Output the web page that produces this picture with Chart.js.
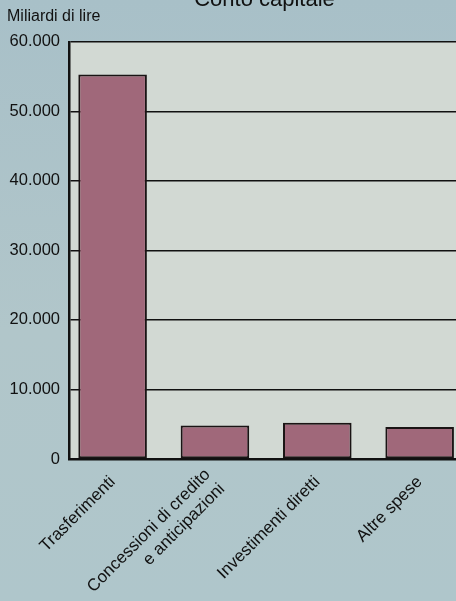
<!DOCTYPE html>
<html><head><meta charset="utf-8">
<script src="https://cdn.jsdelivr.net/npm/chart.js@4/dist/chart.umd.min.js"></script>
<style>
html,body{margin:0;padding:0;width:456px;height:601px;overflow:hidden;background:linear-gradient(180deg,#a8c0c8 0%,#b1c6ca 55%,#afc6cb 100%);}
#wrap{position:absolute;left:0;top:-20px;width:522px;height:625px;}
</style></head><body>
<div id="wrap"><canvas id="c" width="522" height="625"></canvas></div>
<script>
const titleText = "Conto capitale";
const unitText = "Miliardi di lire";
const categories = ["Trasferimenti", ["Concessioni di credito", "e anticipazioni"], "Investimenti diretti", "Altre spese"];
const values = [55300, 4800, 5200, 4600];
const yTicks = [0, 10000, 20000, 30000, 40000, 50000, 60000];
const yTickLabels = ["0", "10.000", "20.000", "30.000", "40.000", "50.000", "60.000"];

const plotBg = {
  id: 'plotBg',
  beforeDraw(chart) {
    const {ctx, chartArea: a} = chart;
    ctx.save();
    ctx.fillStyle = '#d2d9d3';
    ctx.fillRect(a.left, a.top, a.right - a.left, a.bottom - a.top);
    ctx.restore();
    // center multi-line category labels on their tick, as in the original
    try {
      const xs = chart.scales.x;
      const items = xs.getLabelItems(a);
      items.forEach(it => {
        if (Array.isArray(it.label) && !it._centered) {
          const lh = it.font.lineHeight;
          it.textOffset -= lh * (it.label.length - 1) / 2;
          it._centered = true;
        }
      });
    } catch (e) {}
  }
};

const FONT = 'Liberation Sans, Arial, sans-serif';

new Chart(document.getElementById('c'), {
  type: 'bar',
  data: {
    datasets: [{
      data: values.map((v, i) => ({x: i, y: v})),
      backgroundColor: '#a0687a',
      borderColor: '#1a1414',
      borderWidth: 2,
      borderSkipped: false,
      categoryPercentage: 1,
      barPercentage: 0.67
    }]
  },
  options: {
    responsive: false,
    animation: false,
    devicePixelRatio: 1,
    layout: {padding: {left: 7, right: 0, top: 0, bottom: 0}},
    plugins: {
      legend: {display: false},
      tooltip: {enabled: false},
      title: {display: true, text: titleText, color: '#111', font: {family: FONT, size: 22, weight: 'normal', lineHeight: 0.8}, padding: {top: 11, bottom: -2}},
      subtitle: {display: true, text: unitText, align: 'start', color: '#111', font: {family: FONT, size: 16, lineHeight: 1.2}, padding: {top: 0, bottom: 16}}
    },
    scales: {
      x: {
        type: 'linear',
        offset: false,
        min: -0.426, max: 4.0,
        afterBuildTicks(s) { s.ticks = categories.map((c, i) => ({value: i})); },
        grid: {display: false, offset: false},
        border: {display: true, color: '#111', width: 2.5},
        ticks: {color: '#111', font: {family: FONT, size: 17}, minRotation: 45, maxRotation: 45, autoSkip: false, padding: 5,
          callback: v => categories[v]},
        afterFit(s) { s.height = 146; }
      },
      y: {
        min: 0, max: 60000,
        afterBuildTicks(s) { s.ticks = yTicks.map(v => ({value: v})); },
        grid: {color: '#111', lineWidth: 1.6, drawTicks: false},
        border: {display: true, color: '#111', width: 2.5},
        ticks: {color: '#111', font: {family: FONT, size: 16.5}, padding: 9,
          callback: (v) => yTickLabels[yTicks.indexOf(v)]},
        afterFit(s) { s.width = 62; }
      }
    }
  },
  plugins: [plotBg]
});
</script>
</body></html>
